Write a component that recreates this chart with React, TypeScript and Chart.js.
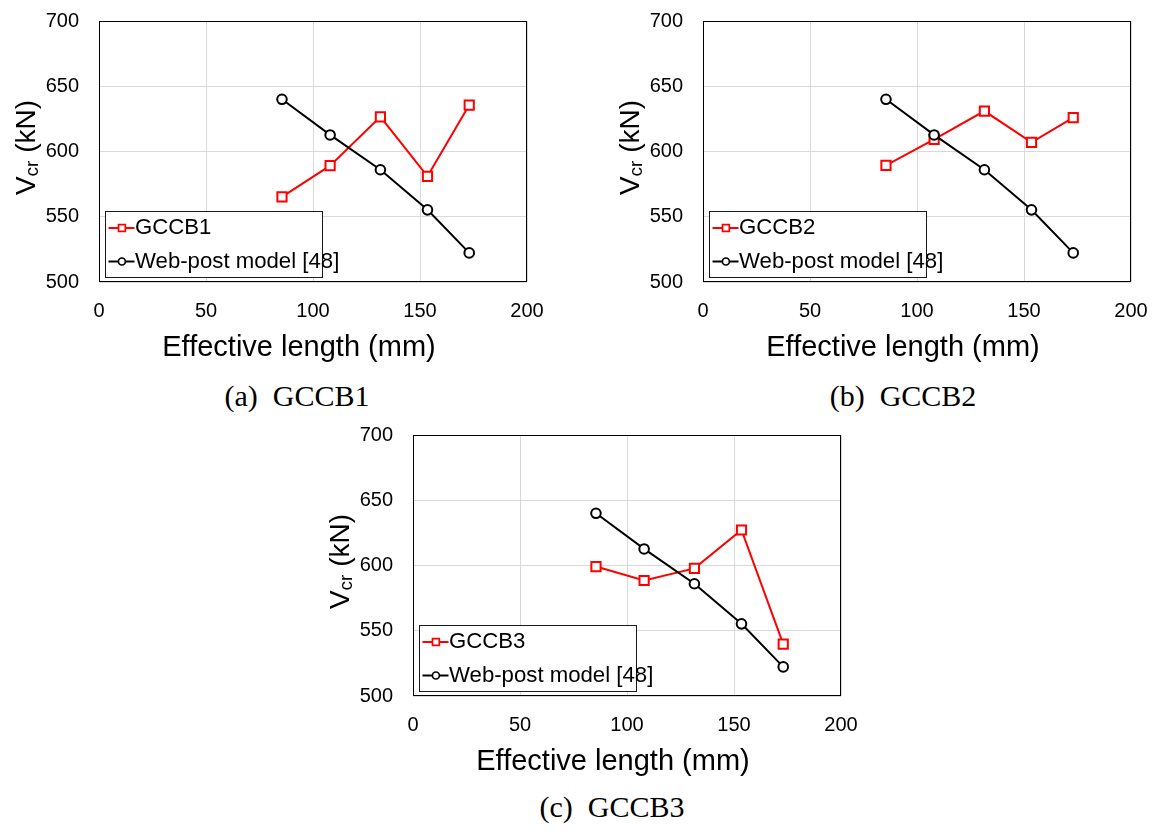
import React, { useEffect, useRef } from "react";
import { Chart, registerables } from "chart.js";

Chart.register(...registerables);

// ---- data ----
const effectiveLength = [85.5, 108, 131.5, 153.5, 173];
const webPostModel = [640, 612.7, 586, 555.3, 522.3];
const gccb1Values = [565.2, 589.2, 626.6, 581, 635.6];
const gccb2Values = [589.4, 609.3, 631, 607, 626];
const gccb3Values = [599.2, 588.5, 597.8, 627.2, 539.7];
const xTickValues = [0, 50, 100, 150, 200];
const yTickValues = [500, 550, 600, 650, 700];
const webPostLabel = "Web-post model [48]";
const xTitle = "Effective length (mm)";
const yTitleMain = "V";
const yTitleSub = "cr";
const yTitleUnit = " (kN)";

const SANS = '"Liberation Sans", Arial, Helvetica, sans-serif';
const SERIF = '"Liberation Serif", "Times New Roman", serif';

type PanelDef = {
  key: string;
  seriesLabel: string;
  values: number[];
  caption: string;
  canvas: { x: number; y: number; w: number; h: number };
  plot: { l: number; t: number; r: number; b: number };
  captionX: number;
  captionBaseline: number;
};

const panels: PanelDef[] = [
  {
    key: "a",
    seriesLabel: "GCCB1",
    values: gccb1Values,
    caption: "(a)  GCCB1",
    canvas: { x: 0, y: 0, w: 570, h: 375 },
    plot: { l: 99, t: 21, r: 527, b: 282 },
    captionX: 297,
    captionBaseline: 406,
  },
  {
    key: "b",
    seriesLabel: "GCCB2",
    values: gccb2Values,
    caption: "(b)  GCCB2",
    canvas: { x: 600, y: 0, w: 560, h: 375 },
    plot: { l: 703, t: 21, r: 1131, b: 282 },
    captionX: 903,
    captionBaseline: 406,
  },
  {
    key: "c",
    seriesLabel: "GCCB3",
    values: gccb3Values,
    caption: "(c)  GCCB3",
    canvas: { x: 310, y: 415, w: 560, h: 375 },
    plot: { l: 413, t: 435, r: 841, b: 696 },
    captionX: 612,
    captionBaseline: 817,
  },
];

function decorPlugin(p: PanelDef) {
  return {
    id: "decor" + p.key,
    beforeDatasetsDraw(chart: any) {
      const { ctx, chartArea: ca } = chart;
      ctx.save();
      ctx.strokeStyle = "#000";
      ctx.lineWidth = 1;
      const l = Math.round(ca.left) + 0.5;
      const t = Math.round(ca.top) + 0.5;
      const r = Math.round(ca.right) - 0.5;
      const b = Math.round(ca.bottom) - 0.5;
      ctx.strokeRect(l, t, r - l, b - t);
      ctx.restore();
    },
    afterDatasetsDraw(chart: any) {
      const { ctx, chartArea: ca } = chart;
      const bw = 217;
      const bh = 66;
      const bx = Math.round(ca.left + 6) + 0.5;
      const by = Math.round(ca.bottom - 5 - bh) + 0.5;
      ctx.save();
      ctx.fillStyle = "#fff";
      ctx.fillRect(bx, by, bw, bh);
      ctx.strokeStyle = "#1a1a1a";
      ctx.lineWidth = 1;
      ctx.strokeRect(bx, by, bw, bh);
      const rows = [by + 16.5, by + 50];
      chart.data.datasets.forEach((ds: any, i: number) => {
        const cy = rows[i];
        ctx.strokeStyle = ds.borderColor;
        ctx.lineWidth = 2;
        ctx.beginPath();
        ctx.moveTo(bx + 3, cy);
        ctx.lineTo(bx + 29, cy);
        ctx.stroke();
        const mx = bx + 16.4;
        ctx.fillStyle = "#fff";
        ctx.lineWidth = 1.7;
        ctx.beginPath();
        if (ds.pointStyle === "rect") {
          ctx.rect(mx - 3.4, cy - 3.4, 6.8, 6.8);
        } else {
          ctx.arc(mx, cy, 3.5, 0, Math.PI * 2);
        }
        ctx.fill();
        ctx.stroke();
        ctx.fillStyle = "#000";
        ctx.font = `22.2px ${SANS}`;
        ctx.textBaseline = "middle";
        ctx.textAlign = "left";
        ctx.fillText(ds.label, bx + 29.5, cy);
      });
      ctx.restore();
    },
    afterDraw(chart: any) {
      const { ctx, chartArea: ca } = chart;
      ctx.save();
      ctx.fillStyle = "#000";
      // x title
      ctx.font = `29px ${SANS}`;
      ctx.textAlign = "center";
      ctx.textBaseline = "alphabetic";
      ctx.fillText(xTitle, (ca.left + ca.right) / 2 - 14, ca.bottom + 74);
      // y title with subscript
      const mainFont = `28px ${SANS}`;
      const subFont = `19px ${SANS}`;
      ctx.font = mainFont;
      const wV = ctx.measureText(yTitleMain).width;
      const wUnit = ctx.measureText(yTitleUnit).width;
      ctx.font = subFont;
      const wSub = ctx.measureText(yTitleSub).width;
      const total = wV + wSub + wUnit;
      ctx.translate(ca.left - 63.6, (ca.top + ca.bottom) / 2 - 4);
      ctx.rotate(-Math.PI / 2);
      ctx.textAlign = "left";
      const x0 = -total / 2;
      ctx.font = mainFont;
      ctx.fillText(yTitleMain, x0, 0);
      ctx.font = subFont;
      ctx.fillText(yTitleSub, x0 + wV, 3);
      ctx.font = mainFont;
      ctx.fillText(yTitleUnit, x0 + wV + wSub, 0);
      ctx.restore();
    },
  };
}

function makeConfig(p: PanelDef): any {
  const { canvas: c, plot } = p;
  const tickFont = { family: SANS, size: 20 };
  return {
    type: "line",
    data: {
      datasets: [
        {
          label: p.seriesLabel,
          data: effectiveLength.map((x, i) => ({ x, y: p.values[i] })),
          borderColor: "#ff0000",
          backgroundColor: "#ffffff",
          borderWidth: 2,
          pointStyle: "rect",
          pointRadius: 6.5,
          pointBorderWidth: 2,
          pointBackgroundColor: "#ffffff",
          pointBorderColor: "#ff0000",
          tension: 0,
          order: 2,
        },
        {
          label: webPostLabel,
          data: effectiveLength.map((x, i) => ({ x, y: webPostModel[i] })),
          borderColor: "#000000",
          backgroundColor: "#ffffff",
          borderWidth: 2,
          pointStyle: "circle",
          pointRadius: 4.8,
          pointBorderWidth: 2,
          pointBackgroundColor: "#ffffff",
          pointBorderColor: "#000000",
          tension: 0,
          order: 1,
        },
      ],
    },
    options: {
      animation: false,
      responsive: false,
      maintainAspectRatio: false,
      devicePixelRatio: 1,
      layout: {
        padding: {
          left: 0,
          top: plot.t - c.y,
          right: c.x + c.w - plot.r,
          bottom: 0,
        },
      },
      plugins: {
        legend: { display: false },
        tooltip: { enabled: false },
        title: { display: false },
      },
      scales: {
        x: {
          type: "linear",
          min: 0,
          max: 200,
          afterBuildTicks: (s: any) => {
            s.ticks = xTickValues.map((v) => ({ value: v }));
          },
          afterFit: (s: any) => {
            s.height = c.y + c.h - plot.b;
            s.paddingLeft = 0;
            s.paddingRight = 0;
          },
          grid: { color: "#d9d9d9", lineWidth: 1, drawTicks: false },
          border: { display: false },
          ticks: {
            font: tickFont,
            color: "#000",
            padding: 17.5,
            maxRotation: 0,
            autoSkip: false,
          },
        },
        y: {
          type: "linear",
          min: 500,
          max: 700,
          afterBuildTicks: (s: any) => {
            s.ticks = yTickValues.map((v) => ({ value: v }));
          },
          afterFit: (s: any) => {
            s.width = plot.l - c.x;
            s.paddingTop = 0;
            s.paddingBottom = 0;
          },
          grid: { color: "#d9d9d9", lineWidth: 1, drawTicks: false },
          border: { display: false },
          ticks: {
            font: tickFont,
            color: "#000",
            padding: 20,
            autoSkip: false,
          },
        },
      },
    },
    plugins: [decorPlugin(p)],
  };
}

function ChartPanel({ p }: { p: PanelDef }) {
  const ref = useRef<HTMLCanvasElement | null>(null);
  useEffect(() => {
    if (!ref.current) return;
    const chart = new Chart(ref.current, makeConfig(p));
    return () => chart.destroy();
  }, [p]);
  return (
    <>
      <canvas
        ref={ref}
        width={p.canvas.w}
        height={p.canvas.h}
        style={{
          position: "absolute",
          left: p.canvas.x,
          top: p.canvas.y,
          width: p.canvas.w,
          height: p.canvas.h,
        }}
      />
      <div
        style={{
          position: "absolute",
          left: p.captionX - 150,
          width: 300,
          top: p.captionBaseline - 25,
          height: 30,
          lineHeight: "30px",
          fontSize: 30,
          fontFamily: SERIF,
          textAlign: "center",
          whiteSpace: "pre",
          color: "#000",
        }}
      >
        {p.caption}
      </div>
    </>
  );
}

export default function App() {
  return (
    <div
      style={{
        position: "absolute",
        left: 0,
        top: 0,
        width: 1160,
        height: 830,
        background: "#fff",
        overflow: "hidden",
      }}
    >
      {panels.map((p) => (
        <ChartPanel key={p.key} p={p} />
      ))}
    </div>
  );
}
